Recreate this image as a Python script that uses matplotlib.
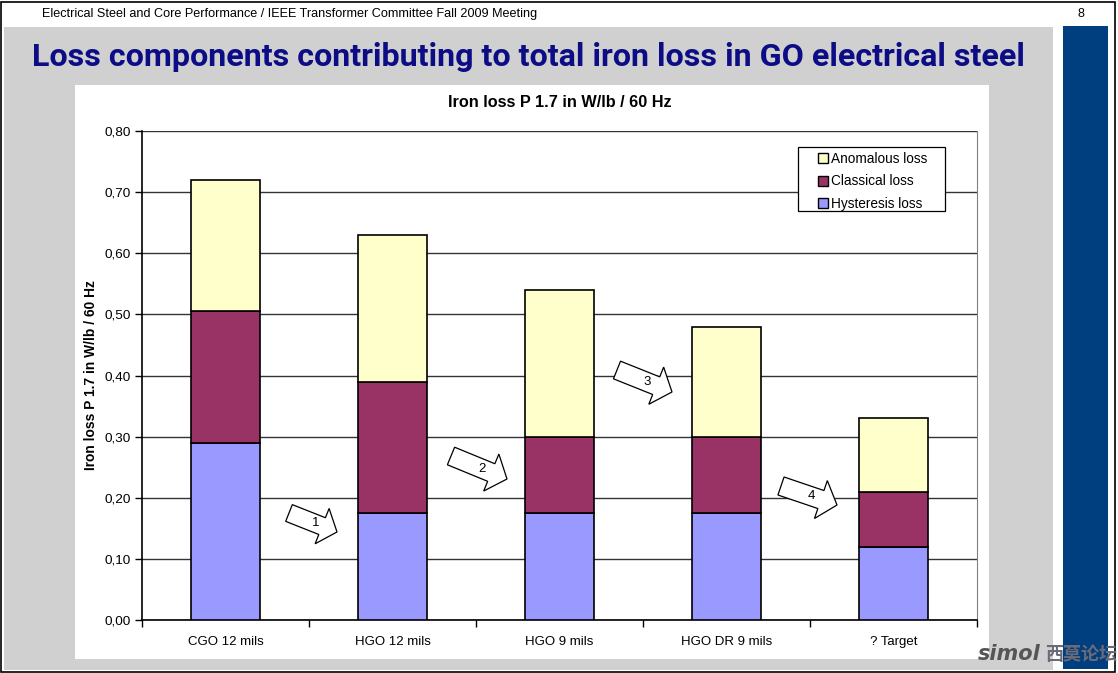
import numpy as np
import matplotlib
matplotlib.use("Agg")
import matplotlib.pyplot as plt
from matplotlib.patches import Rectangle, Polygon, Patch
from matplotlib.ticker import FuncFormatter, FixedLocator

W, H = 1118, 673

categories = ["CGO 12 mils", "HGO 12 mils", "HGO 9 mils", "HGO DR 9 mils", "? Target"]
hysteresis = [0.29, 0.175, 0.175, 0.175, 0.12]
classical = [0.215, 0.215, 0.125, 0.125, 0.09]
anomalous = [0.215, 0.24, 0.24, 0.18, 0.12]
step_labels = ["1", "2", "3", "4"]

col_hyst = "#9999FF"
col_class = "#993366"
col_anom = "#FFFFCC"


def fx(x):
    return x / W


def fy(y):
    return 1 - y / H


def box(x0, y0, x1, y1, color):
    fig.add_artist(Rectangle((fx(x0), fy(y1)), fx(x1) - fx(x0), fy(y0) - fy(y1),
                             transform=fig.transFigure, facecolor=color,
                             edgecolor="none", zorder=-5))


def block_arrow(tail, tip, w, h, hl, label):
    tail = np.array(tail, float)
    tip = np.array(tip, float)
    d = tip - tail
    L = np.hypot(*d)
    u = d / L
    n = np.array([-u[1], u[0]])
    local = [(0, -w), (L - hl, -w), (L - hl, -h), (L, 0), (L - hl, h), (L - hl, w), (0, w)]
    pts = [tail + a * u + b * n for a, b in local]
    pts = [(fx(p[0]), fy(p[1])) for p in pts]
    fig.add_artist(Polygon(pts, closed=True, transform=fig.transFigure,
                           facecolor="white", edgecolor="black", lw=0.9, zorder=5))
    c = tail + (L * 0.55) * u
    fig.text(fx(c[0]), fy(c[1]), label, ha="center", va="center", fontsize=9.5,
             family="Liberation Sans", zorder=6)


fig = plt.figure(figsize=(W / 100, H / 100), dpi=100)

# slide background
box(0, 0, W, H, "white")
box(4, 27, 1053, 670, "#D0D0D0")
box(1063, 26, 1108, 669, "#003F7F")
box(75, 85, 989, 659, "white")
fig.add_artist(Rectangle((fx(1.5), fy(671.5)), fx(1115) - fx(1.5), fy(1.5) - fy(671.5),
                         transform=fig.transFigure, facecolor="none",
                         edgecolor="black", lw=1.2, zorder=-4))

fig.text(fx(290), fy(14), "Electrical Steel and Core Performance / IEEE Transformer Committee Fall 2009 Meeting",
         ha="center", va="center", fontsize=9.05, family="Liberation Sans")
fig.text(fx(1081), fy(14), "8", ha="center", va="center", fontsize=9, family="Liberation Sans")
fig.text(fx(528), fy(57), "Loss components contributing to total iron loss in GO electrical steel",
         ha="center", va="center", fontsize=23.2, fontweight="bold", color="#0C0C85",
         family="Roboto")

ax = fig.add_axes([fx(142), fy(620), fx(977) - fx(142), fy(131) - fy(620)])
ax.set_zorder(2)
x = np.arange(len(categories))
bw = 0.41
bottom2 = np.array(hysteresis)
bottom3 = bottom2 + np.array(classical)
ax.bar(x, hysteresis, bw, color=col_hyst, edgecolor="black", lw=1.2, label="Hysteresis loss", zorder=3)
ax.bar(x, classical, bw, bottom=bottom2, color=col_class, edgecolor="black", lw=1.2,
       label="Classical loss", zorder=3)
ax.bar(x, anomalous, bw, bottom=bottom3, color=col_anom, edgecolor="black", lw=1.2,
       label="Anomalous loss", zorder=3)

ax.set_xlim(-0.5, len(categories) - 0.5)
ax.set_ylim(0, 0.8)
ax.set_yticks(np.arange(0, 0.81, 0.1))
ax.yaxis.set_major_formatter(FuncFormatter(lambda v, p: f"{v:.2f}".replace(".", ",")))
ax.yaxis.grid(True, color="#333333", lw=1.0, zorder=0)
ax.set_axisbelow(True)
ax.set_xticks(x)
ax.set_xticklabels(categories)
ax.xaxis.set_minor_locator(FixedLocator(np.arange(-0.5, len(categories), 1.0)))
ax.tick_params(axis="x", which="major", length=0, pad=11.5, labelsize=9.5)
ax.tick_params(axis="x", which="minor", length=5, width=1, direction="out")
ax.tick_params(axis="y", length=5, width=1, direction="out", labelsize=9.7, pad=3)
for lab in ax.get_xticklabels() + ax.get_yticklabels():
    lab.set_family("Liberation Sans")
ax.spines["right"].set_color("#808080")
ax.spines["top"].set_visible(False)
for s in ["left", "bottom"]:
    ax.spines[s].set_color("black")
    ax.spines[s].set_linewidth(1.2)

ax.set_title("Iron loss P 1.7 in W/lb / 60 Hz", fontsize=11.7, fontweight="bold",
             family="Liberation Sans", pad=17.5)
ax.set_ylabel("Iron loss P 1.7 in W/lb / 60 Hz", fontsize=9.9, fontweight="bold",
              family="Liberation Sans", labelpad=5)

# legend: frame drawn separately to get the wide Excel-style box
ax.add_patch(Rectangle((fx(798), fy(211)), fx(945) - fx(798), fy(147) - fy(211),
                       transform=fig.transFigure, facecolor="white", edgecolor="black",
                       lw=0.9, zorder=6, clip_on=False))
handles = [Patch(facecolor=col_anom, edgecolor="black", label="Anomalous loss"),
           Patch(facecolor=col_class, edgecolor="black", label="Classical loss"),
           Patch(facecolor=col_hyst, edgecolor="black", label="Hysteresis loss")]
leg = ax.legend(handles=handles, loc="upper left", bbox_to_anchor=(fx(818), fy(152)),
                bbox_transform=fig.transFigure, frameon=False, borderpad=0,
                handlelength=0.75, handleheight=0.75, handletextpad=0.18,
                labelspacing=0.62, borderaxespad=0,
                prop={"family": "Liberation Sans", "size": 9.8})
leg.set_zorder(7)

# step arrows between bars
block_arrow((289, 513), (337, 532), 9, 19, 16, step_labels[0])
block_arrow((451, 456), (507, 479), 9.5, 20, 17, step_labels[1])
block_arrow((617, 370), (672, 392), 9.5, 20, 17, step_labels[2])
block_arrow((781, 486), (837, 505), 9.5, 20, 17, step_labels[3])

# watermark
fig.text(fx(1009), fy(654), "simol", ha="center", va="center", fontsize=15,
         fontweight="bold", style="italic", color="#555555", family="DejaVu Sans")
fig.text(fx(1081), fy(654), "西莫论坛", ha="center", va="center", fontsize=13,
         fontweight="bold", color="#6a6a78", family="Noto Sans CJK SC")

fig.savefig("out.png", dpi=100)
